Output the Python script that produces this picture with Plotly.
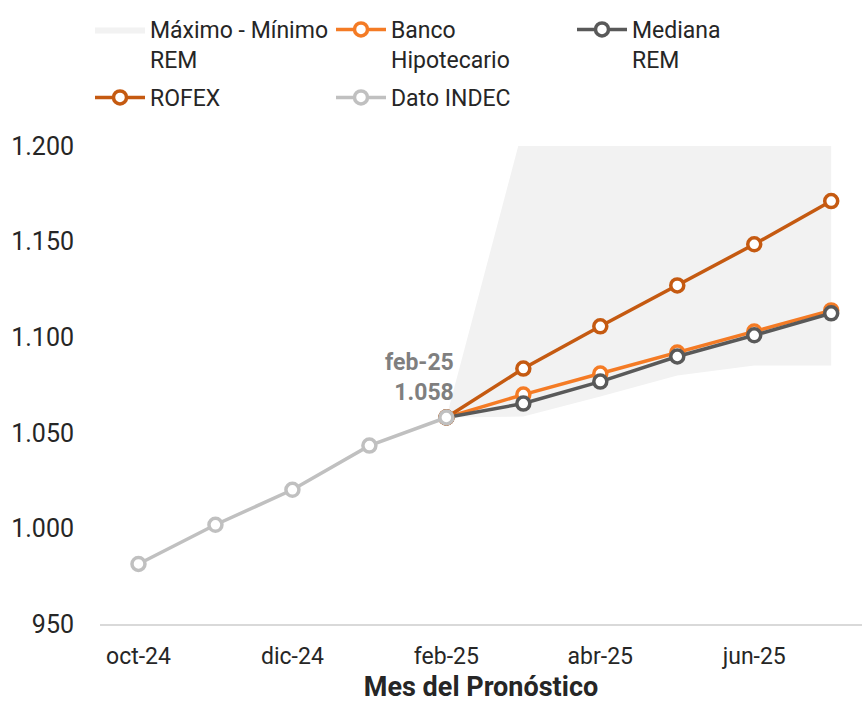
import plotly.graph_objects as go

# Datos
meses = ["oct-24", "nov-24", "dic-24", "ene-25", "feb-25",
         "mar-25", "abr-25", "may-25", "jun-25", "jul-25"]
ticks_x = ["oct-24", "dic-24", "feb-25", "abr-25", "jun-25"]

dato_indec = [981.4, 1001.9, 1020.2, 1043.3, 1058.0, None, None, None, None, None]
banco_hipotecario = [None, None, None, None, 1058.0, 1070.0, 1081.0, 1092.0, 1103.0, 1114.0]
mediana_rem = [None, None, None, None, 1058.0, 1065.3, 1076.8, 1089.9, 1101.0, 1112.5]
rofex = [None, None, None, None, 1058.0, 1083.6, 1105.7, 1127.1, 1148.6, 1171.2]
rem_minimo = [None, None, None, None, 1058.0, 1058.5, 1069.0, 1080.0, 1085.2, 1085.2]
rem_maximo = [None, None, None, None, 1058.0, 1210.0, 1232.0, 1255.0, 1278.0, 1300.0]

FONT = "Roboto"
FS = 23
W, H = 862, 703

fig = go.Figure()

# banda maximo - minimo
fig.add_trace(go.Scatter(x=meses, y=rem_minimo, mode="lines", line=dict(width=0, color="#F2F2F2"),
                         showlegend=False, hoverinfo="skip"))
fig.add_trace(go.Scatter(x=meses, y=rem_maximo, mode="lines", line=dict(width=0, color="#F2F2F2"),
                         fill="tonexty", fillcolor="#F2F2F2", name="Máximo - Mínimo<br>REM",
                         legendrank=1))

def serie(y, nombre, color, rank, leyenda="legend"):
    return go.Scatter(x=meses, y=y, mode="lines+markers", name=nombre, legendrank=rank,
                      legend=leyenda,
                      line=dict(color=color, width=3.5),
                      marker=dict(size=13, color="white", line=dict(color=color, width=3.5)))

fig.add_trace(serie(banco_hipotecario, "Banco<br>Hipotecario", "#F47B25", 2))
fig.add_trace(serie(mediana_rem, "Mediana<br>REM", "#595959", 3))
fig.add_trace(serie(rofex, "ROFEX", "#C55A11", 4, "legend2"))
fig.add_trace(serie(dato_indec, "Dato INDEC", "#C0C0C0", 5, "legend2"))

fig.add_annotation(x="feb-25", y=1058, text="<b>feb-25<br>1.058</b>", showarrow=False,
                   xanchor="right", yanchor="bottom", xshift=10, yshift=10, align="right",
                   font=dict(family=FONT, size=23, color="#7F7F7F"))

ley = dict(orientation="h", xref="container", yref="container", x=90 / W,
           xanchor="left", yanchor="top", entrywidth=176, itemwidth=50, valign="top",
           font=dict(size=FS, color="#262626"), traceorder="normal",
           bgcolor="rgba(0,0,0,0)")

fig.update_layout(
    width=W, height=H,
    paper_bgcolor="white", plot_bgcolor="white",
    margin=dict(l=100, r=0, t=146, b=79),
    separators=",.",
    font=dict(family=FONT, size=FS, color="#262626"),
    legend=dict(ley, y=1 - 8 / H),
    legend2=dict(ley, y=1 - 76 / H),
    showlegend=True,
)
fig.update_xaxes(type="category", categoryorder="array", categoryarray=meses,
                 range=[-0.5, 9.4], tickvals=ticks_x, showgrid=False, zeroline=False,
                 showline=True, linecolor="#D9D9D9", linewidth=2, ticks="",
                 ticklabelstandoff=10, automargin=False,
                 title=dict(text="<b>Mes del Pronóstico</b>", standoff=18,
                            font=dict(size=27, color="#262626")))
fig.update_yaxes(range=[950, 1200], dtick=50, tickformat=",d", showgrid=False,
                 zeroline=False, showline=False, ticks="", ticklabelstandoff=25,
                 automargin=False, tickfont=dict(size=25))

# sin margen en el body para que la figura ocupe toda la ventana
fig.write_html("out.html", config={"displayModeBar": False},
               post_script="document.body.style.margin='0px';")
